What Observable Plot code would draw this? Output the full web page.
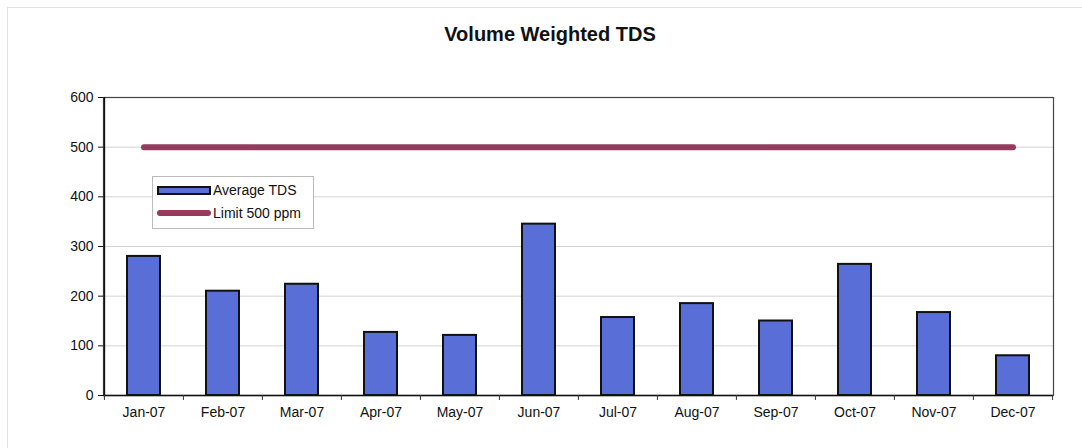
<!DOCTYPE html>
<html>
<head>
<meta charset="utf-8">
<script src="https://cdn.jsdelivr.net/npm/d3@7"></script>
<script src="https://cdn.jsdelivr.net/npm/@observablehq/plot@0.6"></script>
<style>
  html, body { margin: 0; padding: 0; background: #fff; }
  #wrap { position: relative; width: 1082px; height: 448px; font-family: "Liberation Sans", Arial, sans-serif; overflow: hidden; }
  #border { position: absolute; left: 7px; top: 7px; width: 1090px; height: 460px; border: 1px solid #e2e2e2; box-sizing: border-box; }
  #title { position: absolute; left: 0; width: 1100px; top: 23px; text-align: center; font-weight: bold; font-size: 20px; color: #111; }
  #chart { position: absolute; left: 0; top: 0; }
  #legend { position: absolute; left: 152px; top: 176px; width: 162px; height: 53px; border: 1px solid #bbb; background: #fff; font-size: 14px; color: #111; box-sizing: border-box; }
  .li { position: absolute; left: 4px; display: flex; align-items: center; }
  .sw1 { width: 54px; height: 9px; background: #5a6ed8; border: 2px solid #111; box-sizing: border-box; margin-right: 2px; }
  .sw2 { width: 54px; height: 6px; background: #963a5e; border-radius: 3px; margin-right: 2px; }
</style>
</head>
<body>
<div id="wrap">
  <div id="border"></div>
  <div id="chart"></div>
  <div id="title">Volume Weighted TDS</div>
  <div id="legend">
    <div class="li" style="top:5px"><div class="sw1"></div><span>Average TDS</span></div>
    <div class="li" style="top:28px"><div class="sw2"></div><span>Limit 500 ppm</span></div>
  </div>
</div>
<script>
const months = ["Jan-07","Feb-07","Mar-07","Apr-07","May-07","Jun-07","Jul-07","Aug-07","Sep-07","Oct-07","Nov-07","Dec-07"];
const averageTDS = [280, 210, 224, 127, 121, 345, 157, 185, 150, 264, 167, 80];
const limitValue = 500;
const yTicks = [0, 100, 200, 300, 400, 500, 600];

const data = months.map((m, i) => ({month: m, tds: averageTDS[i], limit: limitValue}));
const bw = (1082 - 103 - 29) / months.length;

const chart = Plot.plot({
  width: 1082,
  height: 448,
  marginLeft: 103,
  marginRight: 29,
  marginTop: 97,
  marginBottom: 53,
  style: {fontFamily: "Liberation Sans, Arial, sans-serif", fontSize: "14px", color: "#111", background: "transparent"},
  x: {domain: months, paddingInner: 0.58, paddingOuter: 0.29, label: null},
  y: {domain: [0, 600], ticks: yTicks, label: null},
  marks: [
    Plot.ruleY(yTicks.filter(d => d > 0 && d < 600), {stroke: "#d4d4d4", strokeWidth: 1}),
    Plot.barY(data, {x: "month", y: "tds", fill: "#5a6ed8", stroke: "#111", strokeWidth: 2}),
    Plot.lineY(data, {x: "month", y: "limit", stroke: "#963a5e", strokeWidth: 6, strokeLinecap: "round"}),
    Plot.frame({stroke: "#444", strokeWidth: 1.2}),
    Plot.ruleY([0], {stroke: "#111", strokeWidth: 1.5}),
    Plot.ruleX(months, {x: d => d, dx: -bw / 2, y1: 0, y2: -10, stroke: "#333", strokeWidth: 1}),
    Plot.ruleX([months[months.length - 1]], {dx: bw / 2, y1: 0, y2: -10, stroke: "#333", strokeWidth: 1}),
    Plot.axisY({ticks: yTicks, tickSize: 5, tickPadding: 5, stroke: "#111", fontSize: 14}),
    Plot.ruleX([months[0]], {dx: -bw / 2, y1: 0, y2: 600, stroke: "#111", strokeWidth: 1.5}),
    Plot.axisX({tickSize: 0, tickPadding: 12, fontSize: 14})
  ]
});
document.getElementById("chart").appendChild(chart);
</script>
</body>
</html>
